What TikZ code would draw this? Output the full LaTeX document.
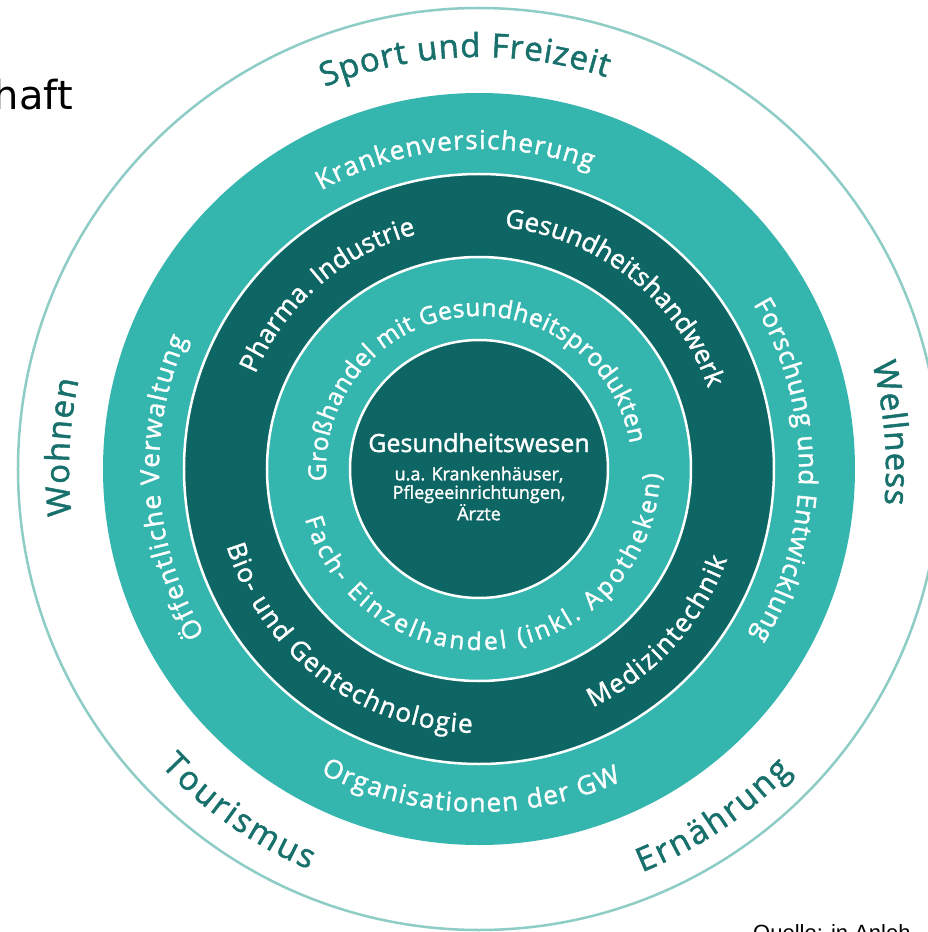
\documentclass[tikz,border=0pt]{standalone}
\usepackage{fontspec}
\setmainfont{Open Sans}
\newfontfamily\labfont{Open Sans}[FakeBold=1.5]
\newfontfamily\headfont{DejaVu Sans}
\newfontfamily\sourcefont{Liberation Sans}
\usepackage{xcolor}
\usetikzlibrary{decorations.text}
\usetikzlibrary{positioning}

\definecolor{ringlight}{HTML}{34B5AE}
\definecolor{ringdark}{HTML}{0D6664}
\definecolor{outertext}{HTML}{17706B}
\definecolor{outerline}{HTML}{8ECCC6}

\newcommand{\outerlab}{\labfont\fontsize{33}{35}\selectfont\color{outertext}}
\newcommand{\ringlab}{\labfont\fontsize{26}{28}\selectfont\color{white}}
\newcommand{\innerlab}{\labfont\fontsize{24.5}{26}\selectfont\color{white}}

\tikzset{
  arclabel/.style={decorate, decoration={text along path, text align=fit to path}},
  ringdisk/.style={draw=white, line width=2.5},
}

\begin{document}
\begin{tikzpicture}[x=1pt, y=1pt]
      \useasboundingbox[fill=white] (-479,-463) rectangle (448,469);
      \coordinate (c) at (0,0);

      \draw[outerline, line width=2.5] (c) circle[radius=461];
      \fill[ringlight] (c) circle[radius=376];
      \draw[ringdisk, fill=ringdark] (c) circle[radius=295];
      \draw[ringdisk, fill=ringlight] (c) circle[radius=212];
      \draw[ringdisk, fill=ringdark] (c) circle[radius=129];

      % outer field
      \path[arclabel, decoration={text={|\outerlab|Sport und Freizeit}}] (112:412) arc[start angle=112, end angle=72, radius=412];
      \path[arclabel, decoration={text={|\outerlab|Wohnen}}] (186.5:410) arc[start angle=186.5, end angle=167.5, radius=410];
      \path[arclabel, decoration={text={|\outerlab|Wellness}}] (15:407) arc[start angle=15, end angle=-5, radius=407];
      \path[arclabel, decoration={text={|\outerlab|Tourismus}}] (223:435) arc[start angle=223, end angle=247, radius=435];
      \path[arclabel, decoration={text={|\outerlab|Ernährung}}] (292:435) arc[start angle=292, end angle=316, radius=435];

      % light ring
      \path[arclabel, decoration={text={|\ringlab|Krankenversicherung}}] (119.5:320) arc[start angle=119.5, end angle=69.5, radius=320];
      \path[arclabel, decoration={text={|\ringlab|Öffentliche Verwaltung}}] (211:320) arc[start angle=211, end angle=156, radius=320];
      \path[arclabel, decoration={text={|\ringlab|Forschung und Entwicklung}}] (31:320) arc[start angle=31, end angle=-31.5, radius=320];
      \path[arclabel, decoration={text={|\ringlab|Organisationen der GW}}] (242.5:343) arc[start angle=242.5, end angle=294.5, radius=343];

      % dark ring
      \path[arclabel, decoration={text={|\ringlab|Pharma. Industrie}}] (157:243) arc[start angle=157, end angle=105, radius=243];
      \path[arclabel, decoration={text={|\ringlab|Gesundheitshandwerk}}] (84:243) arc[start angle=84, end angle=19.5, radius=243];
      \path[arclabel, decoration={text={|\ringlab|Bio- und Gentechnologie}}] (197:264) arc[start angle=197, end angle=268.5, radius=264];
      \path[arclabel, decoration={text={|\ringlab|Medizintechnik}}] (295.5:264) arc[start angle=295.5, end angle=340, radius=264];

      % inner ring
      \path[arclabel, decoration={text={|\innerlab|Großhandel mit Gesundheitsprodukten}}] (184.5:153) arc[start angle=184.5, end angle=9.5, radius=153];
      \path[arclabel, decoration={text={|\innerlab|Fach- Einzelhandel (inkl. Apotheken)}}] (196:181) arc[start angle=196, end angle=358.5, radius=181];

      \node[anchor=base, inner sep=0, text=white, font=\labfont\fontsize{25}{27}\selectfont] (title) at (0,17) {Gesundheitswesen};
      \node[below=14pt of title, inner sep=0, text=white, align=center, font=\labfont\fontsize{18}{18.5}\selectfont] (sub) {u.a. Krankenhäuser,\\Pflegeeinrichtungen,\\Ärzte};

      \node[anchor=base east, inner sep=0, font=\headfont\fontsize{40}{40}\selectfont] (heading) at (-406,359) {haft};
      \node[anchor=base west, inner sep=0, font=\sourcefont\fontsize{22}{22}\selectfont] (source) at (274,-471) {Quelle: in Anleh};
    \end{tikzpicture}
\end{document}
